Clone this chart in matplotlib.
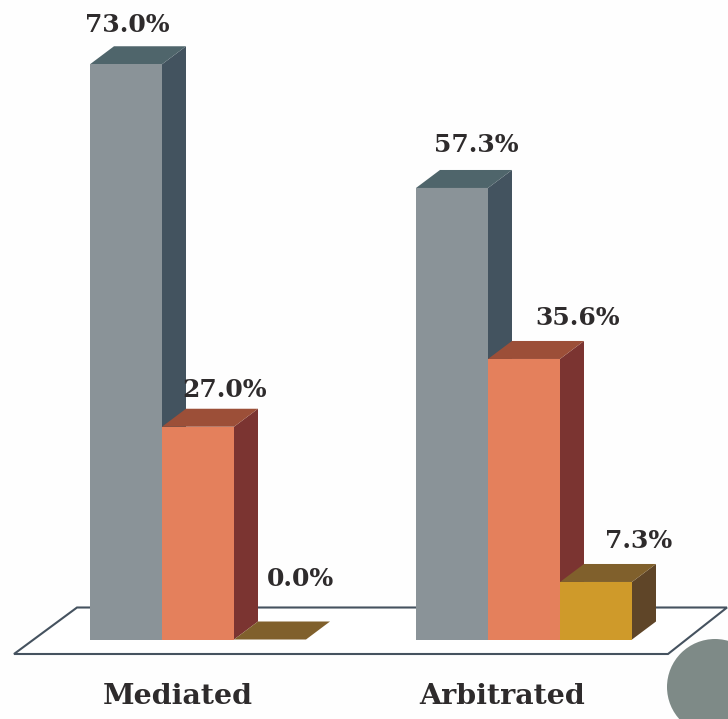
"""Mediated vs arbitrated outcomes, drawn as pseudo-3D bars on a floor plate."""

import matplotlib

matplotlib.use("Agg")
import matplotlib.patches as mpatches
import matplotlib.pyplot as plt

# ---- data ------------------------------------------------------------------
categories = ["Mediated", "Arbitrated"]
mediated = [73.0, 27.0, 0.0]
arbitrated = [57.3, 35.6, 7.3]

# ---- palette ---------------------------------------------------------------
INK = "#2e2b2c"
FLOOR_LINE = "#45525f"
FRONT = ["#8a9398", "#e4805c", "#cf9a2a"]
SIDE = ["#43535f", "#7b3431", "#5f4528"]
TOP = ["#4f656b", "#9c4f38", "#80602c"]
DISC = "#7e8a87"

# ---- geometry (x axis is pixels, y axis is percent) ------------------------
PX_PER_PCT = 7.88
BASE_PX = 639.5  # image row of the 0% line
GROUP_X = [90, 416]
BAR_W = 72
DX, DY_PX = 24, 18
DY = DY_PX / PX_PER_PCT

# label placement relative to bar centre / top, in pixels
LABEL_OFFSETS = [
    [(1, 39), (27, 37), (31, 60)],
    [(24, 43), (54, 41), (43, 41)],
]


def py(row):
    """image row -> percent on the y axis"""
    return (BASE_PX - row) / PX_PER_PCT


plt.rcParams["font.family"] = ["DejaVu Serif"]
fig = plt.figure(figsize=(7.28, 7.19), dpi=100)
fig.patch.set_facecolor("#fefefe")
ax = fig.add_axes((0, 0, 1, 1))
ax.set_xlim(0, 728)
ax.set_ylim(py(719), py(0))
ax.axis("off")

# floor plate
floor = [(14, py(654)), (77, py(607.5)), (727, py(607.5)), (668, py(654))]
ax.add_patch(mpatches.Polygon(floor, closed=True, facecolor="white", edgecolor=FLOOR_LINE, lw=1.5, zorder=1))

# bars, left to right so each front covers the previous side face
z = 2
for g, values in enumerate([mediated, arbitrated]):
    for s, v in enumerate(values):
        x0 = GROUP_X[g] + s * BAR_W
        x1 = x0 + BAR_W
        if v > 0:
            ax.add_patch(mpatches.Polygon(
                [(x1, 0), (x1 + DX, DY), (x1 + DX, v + DY), (x1, v)],
                facecolor=SIDE[s], edgecolor="none", zorder=z,
            ))
        ax.add_patch(mpatches.Polygon(
            [(x0, v), (x0 + DX, v + DY), (x1 + DX, v + DY), (x1, v)],
            facecolor=TOP[s], edgecolor="none", zorder=z,
        ))
        if v > 0:
            ax.bar(x0, v, width=BAR_W, align="edge", color=FRONT[s], zorder=z + 0.5, linewidth=0)
        z += 1
        off_x, off_y = LABEL_OFFSETS[g][s]
        ax.text(
            x0 + BAR_W / 2 + off_x, v + off_y / PX_PER_PCT, f"{v:.1f}%",
            ha="center", va="center", fontsize=18, fontweight="bold", color=INK, zorder=30,
        )

# category names
for x, name in zip([178, 502], categories):
    ax.text(x, py(697), name, ha="center", va="center", fontsize=20.5, fontweight="bold", color=INK, zorder=30)

# disc cut off by the corner
ax.add_patch(mpatches.Ellipse(
    (715, py(687)), 96, 96 / PX_PER_PCT, facecolor=DISC, edgecolor="none", zorder=20,
))

fig.savefig("out.png", dpi=100, facecolor=fig.get_facecolor())
